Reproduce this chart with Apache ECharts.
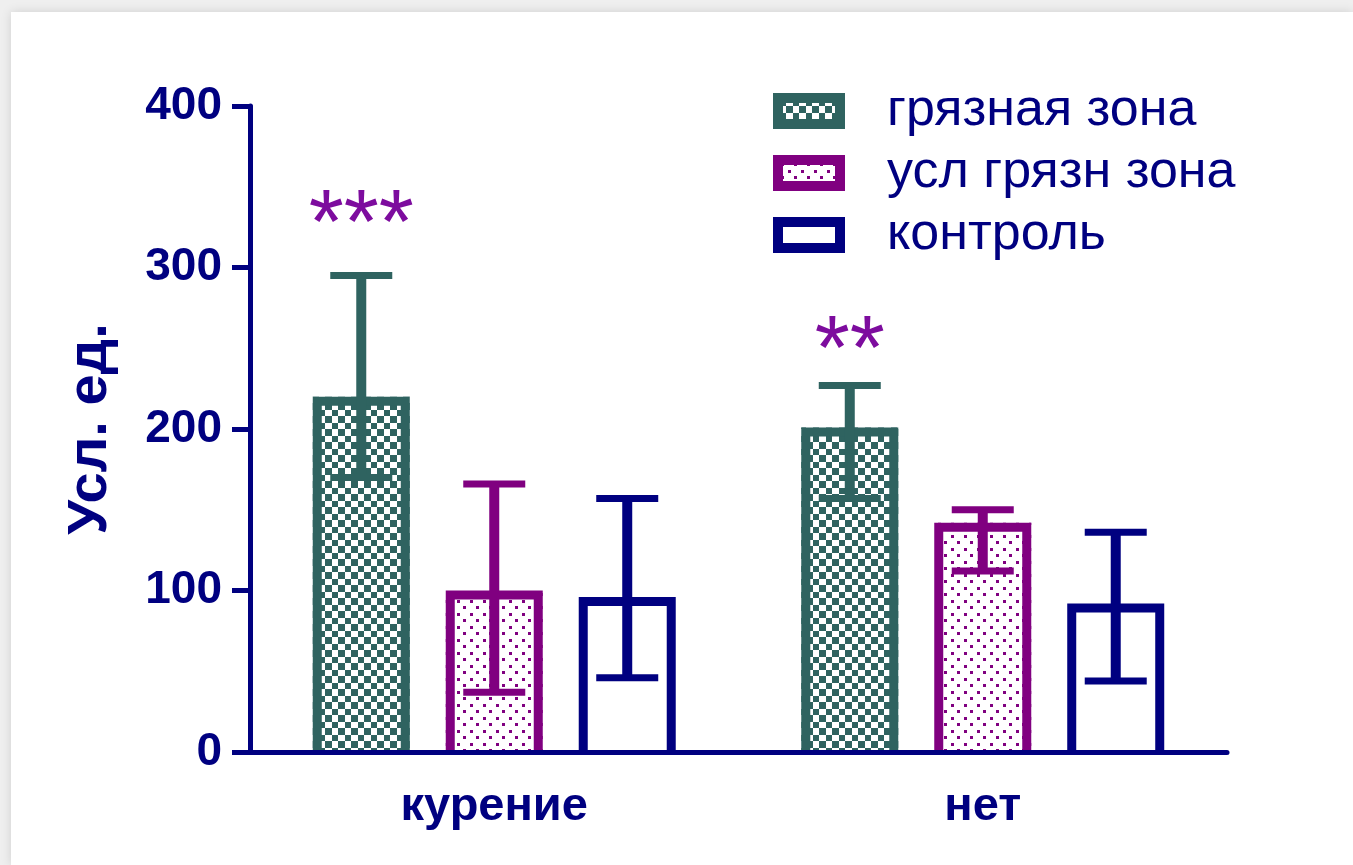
<!DOCTYPE html>
<html>
<head>
<meta charset="utf-8">
<title>Усл. ед.</title>
<script src="https://cdn.jsdelivr.net/npm/echarts@6/dist/echarts.min.js"></script>
<style>
  html, body { margin: 0; padding: 0; width: 1353px; height: 865px; overflow: hidden; background: #efefef; }
  #card { position: absolute; left: 11px; top: 12px; right: 0; bottom: 0; background: #ffffff;
          box-shadow: 0 0 10px rgba(0,0,0,0.13); }
  #chart { position: absolute; left: 0; top: 0; width: 1353px; height: 865px; }
</style>
</head>
<body>
<div id="card"></div>
<div id="chart"></div>
<script>
// ---- data ----
const categories = ['курение', 'нет'];
const seriesNames = ['грязная зона', 'усл грязн зона', 'контроль'];

const dirtyZone = [220, 201];
const dirtyLow = [170, 157];
const dirtyHigh = [295, 227];

const condDirtyZone = [100, 142];
const condLow = [37, 112];
const condHigh = [166, 150];

const control = [96, 92];
const controlLow = [46, 44];
const controlHigh = [157, 136];

// significance marks above the "грязная зона" bars
const sigLabels = ['***', '**'];
const sigLevel = [337, 259];

const yMin = 0, yMax = 400, yStep = 100;

// ---- styles ----
const GREEN = '#2f6360';
const PURPLE = '#800080';
const NAVY = '#000080';
const STAR = '#7d0c9e';
const FONT = '"Liberation Sans", Arial, sans-serif';
const BAR_W = 97;
const BAR_GAP = 0.371;
const BORDER = 9;

function makeCanvas(w, h) {
  const c = document.createElement('canvas');
  c.width = w; c.height = h;
  return c;
}

// checkerboard fill
function checkerTile() {
  const c = makeCanvas(13, 13);
  const g = c.getContext('2d');
  g.fillStyle = '#ffffff'; g.fillRect(0, 0, 13, 13);
  g.fillStyle = GREEN;
  g.fillRect(0, 0, 7, 7);
  g.fillRect(7, 7, 6, 6);
  return c;
}

// sparse dotted fill
function dotTile() {
  const c = makeCanvas(13, 13);
  const g = c.getContext('2d');
  g.fillStyle = '#ffffff'; g.fillRect(0, 0, 13, 13);
  g.fillStyle = PURPLE;
  g.fillRect(2, 2, 3, 3);
  g.fillRect(8, 8, 3, 3);
  return c;
}

const checker = checkerTile();
const dots = dotTile();

// legend swatch: thick border around a patterned core
function swatch(border, tile) {
  const c = makeCanvas(72, 36);
  const g = c.getContext('2d');
  g.fillStyle = border; g.fillRect(0, 0, 72, 36);
  g.fillStyle = tile ? g.createPattern(tile, 'repeat') : '#ffffff';
  g.fillRect(10, 10, 52, 16);
  return 'image://' + c.toDataURL();
}

const barDefs = [
  { name: seriesNames[0], values: dirtyZone, low: dirtyLow, high: dirtyHigh, color: GREEN, fill: { image: checker, repeat: 'repeat' } },
  { name: seriesNames[1], values: condDirtyZone, low: condLow, high: condHigh, color: PURPLE, fill: { image: dots, repeat: 'repeat' } },
  { name: seriesNames[2], values: control, low: controlLow, high: controlHigh, color: NAVY, fill: '#ffffff' }
];

const legendIcons = [swatch(GREEN, checker), swatch(PURPLE, dots), swatch(NAVY, null)];

// rows: [category index, bar value, low, high, series index]
const errRows = [];
barDefs.forEach((d, k) => {
  categories.forEach((c, i) => errRows.push([i, d.values[i], d.low[i], d.high[i], k]));
});
const sigRows = categories.map((c, i) => [i, sigLevel[i], sigLabels[i]]);

const step = BAR_W * (1 + BAR_GAP);

const chart = echarts.init(document.getElementById('chart'), null, { renderer: 'canvas' });

const series = barDefs.map(d => ({
  name: d.name,
  type: 'bar',
  barWidth: BAR_W,
  barGap: (BAR_GAP * 100) + '%',
  data: d.values,
  itemStyle: { color: d.fill, borderWidth: 0 },
  emphasis: { disabled: true },
  z: 2
}));

// open-bottom outline of each bar, then its error bar on top
series.push({
  type: 'custom',
  data: errRows,
  z: 5,
  silent: true,
  renderItem: function (params, api) {
    const cat = api.value(0);
    const k = api.value(4);
    const x = api.coord([cat, 0])[0] + (k - 1) * step;
    const y0 = api.coord([cat, 0])[1];
    const yVal = api.coord([cat, api.value(1)])[1];
    const yLo = api.coord([cat, api.value(2)])[1];
    const yHi = api.coord([cat, api.value(3)])[1];
    const col = barDefs[k].color;
    const half = BAR_W / 2 - BORDER / 2;
    const top = yVal + BORDER / 2;
    const capHalf = 31;
    return {
      type: 'group',
      children: [
        { type: 'polyline', shape: { points: [[x - half, y0], [x - half, top], [x + half, top], [x + half, y0]] },
          style: { stroke: col, lineWidth: BORDER, fill: null, lineJoin: 'miter' } },
        { type: 'line', shape: { x1: x, y1: yLo, x2: x, y2: yHi }, style: { stroke: col, lineWidth: 10 } },
        { type: 'line', shape: { x1: x - capHalf, y1: yHi, x2: x + capHalf, y2: yHi }, style: { stroke: col, lineWidth: 7 } },
        { type: 'line', shape: { x1: x - capHalf, y1: yLo, x2: x + capHalf, y2: yLo }, style: { stroke: col, lineWidth: 7 } }
      ]
    };
  }
});

series.push({
  type: 'custom',
  data: sigRows,
  z: 6,
  silent: true,
  renderItem: function (params, api) {
    const cat = api.value(0);
    const x = api.coord([cat, 0])[0] - step;
    const y = api.coord([cat, api.value(1)])[1];
    return {
      type: 'text',
      x: x,
      // the asterisk sits near the top of the em box
      y: y + 20,
      style: {
        text: sigRows[params.dataIndex][2],
        fill: STAR,
        font: '90px ' + FONT,
        align: 'center',
        verticalAlign: 'middle'
      }
    };
  }
});

chart.setOption({
  animation: false,
  backgroundColor: 'transparent',
  grid: { left: 250, right: 126, top: 106, bottom: 113, containLabel: false },
  legend: {
    orient: 'vertical',
    left: 773,
    top: 85,
    padding: 0,
    itemWidth: 72,
    itemHeight: 36,
    itemGap: 10,
    selectedMode: false,
    data: seriesNames.map((n, i) => ({ name: n, icon: legendIcons[i] })),
    textStyle: {
      color: NAVY,
      fontSize: 52,
      fontFamily: FONT,
      padding: [0, 0, 0, 37]
    }
  },
  xAxis: {
    type: 'category',
    data: categories,
    z: 10,
    axisLine: { lineStyle: { color: NAVY, width: 5 } },
    axisTick: { alignWithLabel: true, length: 20, lineStyle: { color: NAVY, width: 5 } },
    axisLabel: { color: NAVY, fontSize: 47, fontWeight: 'bold', margin: 32, fontFamily: FONT },
    splitLine: { show: false }
  },
  yAxis: {
    type: 'value',
    min: yMin, max: yMax, interval: yStep,
    z: 10,
    name: 'Усл. ед.',
    nameLocation: 'middle',
    nameRotate: 90,
    nameGap: 131,
    nameTextStyle: { color: NAVY, fontSize: 56, fontWeight: 'bold', fontFamily: FONT },
    axisLine: { show: true, lineStyle: { color: NAVY, width: 5 } },
    axisTick: { show: true, length: 18, lineStyle: { color: NAVY, width: 5 } },
    axisLabel: { color: NAVY, fontSize: 46, fontWeight: 'bold', margin: 28, fontFamily: FONT },
    splitLine: { show: false }
  },
  series: series
});
</script>
</body>
</html>
